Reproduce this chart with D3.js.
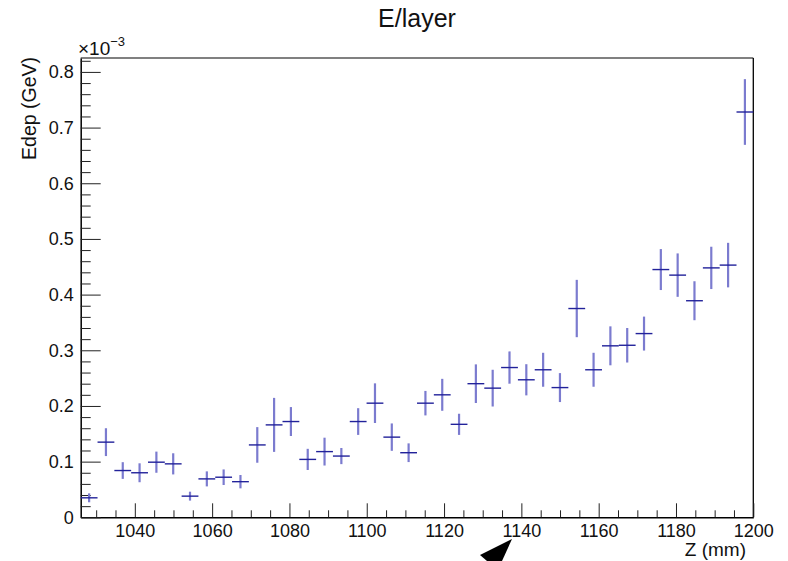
<!DOCTYPE html>
<html>
<head>
<meta charset="utf-8">
<script src="https://d3js.org/d3.v7.min.js"></script>
<style>
  body { margin: 0; background: #fff; }
  text { font-family: "Liberation Sans", Arial, sans-serif; fill: #111; }
</style>
</head>
<body>
<div id="chart"></div>
<script>
// bin centres along Z (mm), 40 bins from 1026 to 1200
var zCenters = [1028.18, 1032.53, 1036.88, 1041.23, 1045.58, 1049.93, 1054.28, 1058.63,
  1062.98, 1067.33, 1071.68, 1076.03, 1080.38, 1084.73, 1089.08, 1093.43,
  1097.78, 1102.13, 1106.48, 1110.83, 1115.18, 1119.53, 1123.88, 1128.23,
  1132.58, 1136.93, 1141.28, 1145.63, 1149.98, 1154.33, 1158.68, 1163.03,
  1167.38, 1171.73, 1176.08, 1180.43, 1184.78, 1189.13, 1193.48, 1197.83];
var binHalf = 2.175;

// energy deposit per layer (x 1e-3 GeV)
var edep = [0.035, 0.135, 0.084, 0.080, 0.099, 0.096, 0.038, 0.069,
  0.072, 0.064, 0.130, 0.166, 0.172, 0.104, 0.118, 0.110,
  0.172, 0.205, 0.144, 0.116, 0.205, 0.220, 0.167, 0.240,
  0.232, 0.269, 0.247, 0.265, 0.233, 0.375, 0.265, 0.308,
  0.309, 0.330, 0.445, 0.435, 0.389, 0.448, 0.453, 0.728];

// error on each bin (x 1e-3 GeV)
var edepErr = [0.008, 0.025, 0.015, 0.017, 0.019, 0.019, 0.008, 0.0135,
  0.014, 0.012, 0.032, 0.0485, 0.026, 0.019, 0.025, 0.0145,
  0.024, 0.0356, 0.0246, 0.0168, 0.022, 0.0287, 0.019, 0.0347,
  0.033, 0.029, 0.028, 0.0305, 0.026, 0.0515, 0.0305, 0.035,
  0.031, 0.0305, 0.0368, 0.039, 0.035, 0.038, 0.040, 0.059];

var xMajor = [1040, 1060, 1080, 1100, 1120, 1140, 1160, 1180, 1200];
var yMajor = [0, 0.1, 0.2, 0.3, 0.4, 0.5, 0.6, 0.7, 0.8];

var W = 788, H = 561;
var padL = 80.7, padR = 753.3, padT = 58, padB = 517.3;

var svg = d3.select("#chart").append("svg")
  .attr("width", W)
  .attr("height", H);

var x = d3.scaleLinear().domain([1026, 1200]).range([padL, padR]);
var y = d3.scaleLinear().domain([0, 0.825]).range([padB, padT]);

// minor tick values
var xMinor = d3.range(1030, 1200, 5).filter(function (d) { return d % 20 != 0; });
var yMinor = d3.range(1, 42).map(function (i) { return i * 0.02; })
  .filter(function (d) { return Math.abs(d * 10 - Math.round(d * 10)) > 1e-6; });

// frame top / right
svg.append("line")
  .attr("x1", padL).attr("x2", padR)
  .attr("y1", padT).attr("y2", padT)
  .style("stroke", "#808080").style("stroke-width", 2);
svg.append("line")
  .attr("x1", padR).attr("x2", padR)
  .attr("y1", padT).attr("y2", padB)
  .style("stroke", "#000").style("stroke-width", 1.3);

// x axis
var gx = svg.append("g")
  .attr("transform", "translate(0," + padB + ")")
  .call(d3.axisBottom(x).tickValues(xMajor).tickSizeInner(-14).tickSizeOuter(0).tickPadding(4)
    .tickFormat(d3.format("d")));
gx.selectAll("text").style("font-size", "18px").attr("dy", "0.95em").attr("y", 3);
gx.select(".domain").style("stroke", "#000").style("stroke-width", 1.5);
gx.selectAll(".tick line").style("stroke", "#222");

svg.append("g")
  .attr("transform", "translate(0," + padB + ")")
  .call(d3.axisBottom(x).tickValues(xMinor).tickSizeInner(-7).tickSizeOuter(0).tickFormat(""))
  .call(function (g) { g.select(".domain").remove(); })
  .selectAll(".tick line").style("stroke", "#222");

// y axis
var gy = svg.append("g")
  .attr("transform", "translate(" + padL + ",0)")
  .call(d3.axisLeft(y).tickValues(yMajor).tickSizeInner(-20).tickSizeOuter(0).tickPadding(7)
    .tickFormat(function (d) { return d == 0 ? "0" : d.toFixed(1); }));
gy.selectAll("text").style("font-size", "18px");
gy.select(".domain").style("stroke", "#000").style("stroke-width", 1.5);
gy.selectAll(".tick line").style("stroke", "#222");

svg.append("g")
  .attr("transform", "translate(" + padL + ",0)")
  .call(d3.axisLeft(y).tickValues(yMinor).tickSizeInner(-10).tickSizeOuter(0).tickFormat(""))
  .call(function (g) { g.select(".domain").remove(); })
  .selectAll(".tick line").style("stroke", "#222");

// data points
var pts = svg.append("g").selectAll("g")
  .data(zCenters)
  .enter()
  .append("g");

pts.append("line")
  .attr("x1", function (d) { return x(d); })
  .attr("x2", function (d) { return x(d); })
  .attr("y1", function (d, i) { return y(edep[i] - edepErr[i]); })
  .attr("y2", function (d, i) { return y(edep[i] + edepErr[i]); })
  .style("stroke", "#7b7bcf")
  .style("stroke-width", 2.2);

pts.append("line")
  .attr("x1", function (d) { return x(d - binHalf); })
  .attr("x2", function (d) { return x(d + binHalf); })
  .attr("y1", function (d, i) { return y(edep[i]); })
  .attr("y2", function (d, i) { return y(edep[i]); })
  .style("stroke", "#22229a")
  .style("stroke-width", 1.4);

// titles
svg.append("text")
  .attr("x", 417).attr("y", 27)
  .attr("text-anchor", "middle")
  .style("font-size", "25px")
  .text("E/layer");

svg.append("text")
  .attr("transform", "translate(36," + (padT - 1) + ") rotate(-90)")
  .attr("text-anchor", "end")
  .style("font-size", "19.5px")
  .text("Edep (GeV)");

svg.append("text")
  .attr("x", 746).attr("y", 556)
  .attr("text-anchor", "end")
  .style("font-size", "19px")
  .text("Z (mm)");

var mult = svg.append("text")
  .attr("x", 78).attr("y", 55)
  .style("font-size", "19px");
mult.append("tspan").text("\u00d710");
mult.append("tspan").attr("dy", -9).style("font-size", "13px").text("\u22123");

// mouse cursor caught in the screenshot
svg.append("path")
  .attr("d", "M512,539 L480,555 L487,561 L502,561 Z")
  .style("fill", "#000");
</script>
</body>
</html>
